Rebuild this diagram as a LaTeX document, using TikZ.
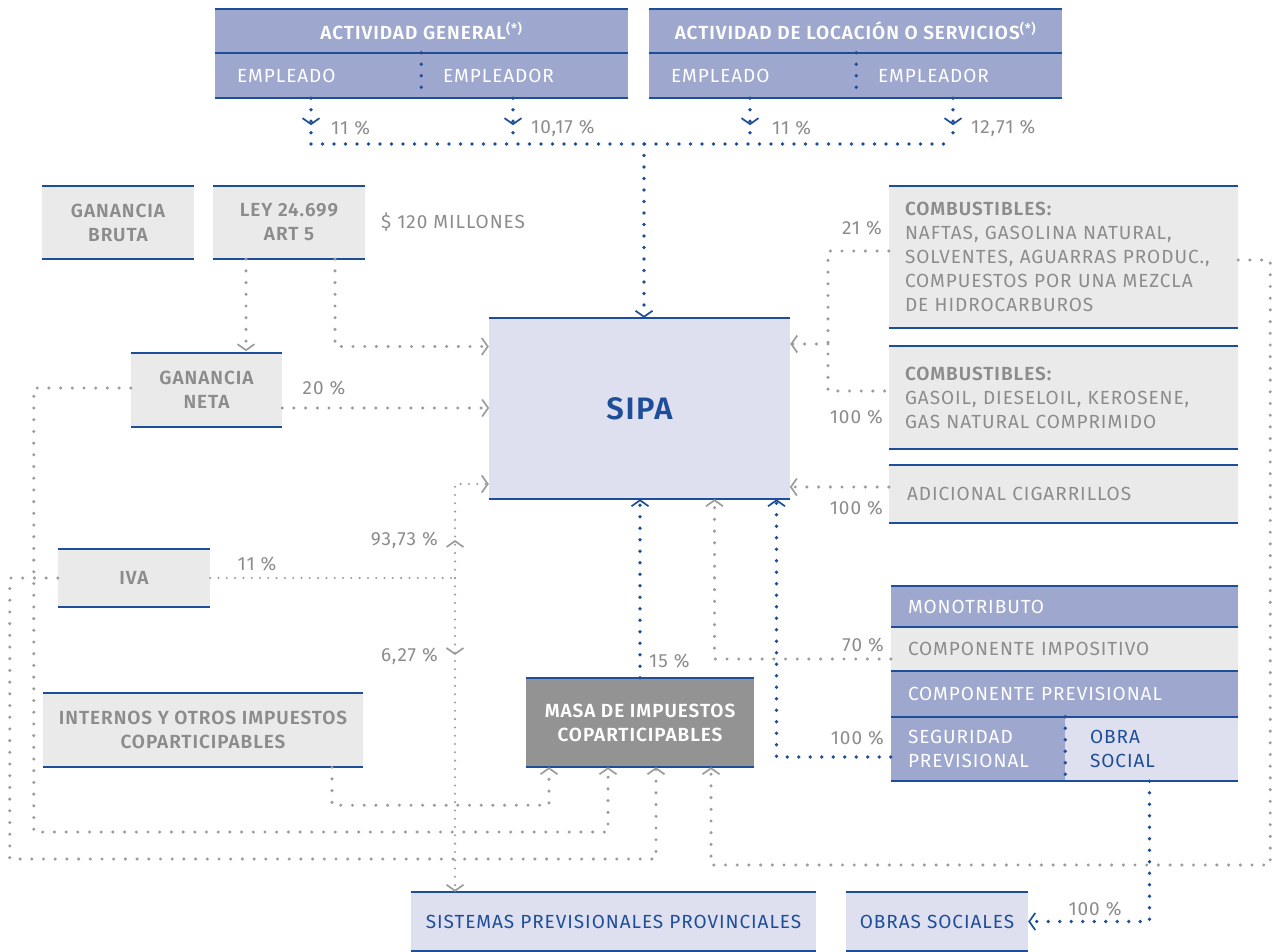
\documentclass[tikz,border=0pt]{standalone}
\usepackage{fontspec}
\setmainfont{Fira Sans}[LetterSpace=5,BoldFont={* SemiBold}]
\usetikzlibrary{arrows.meta,decorations.markings}
\definecolor{lav}{HTML}{9EA7CD}
\definecolor{lavlt}{HTML}{DEE0F0}
\definecolor{grylt}{HTML}{EAEAEA}
\definecolor{grydk}{HTML}{939393}
\definecolor{navy}{HTML}{1F4E99}
\definecolor{txtgry}{HTML}{8C8C8C}
\definecolor{dotgry}{HTML}{9C9C9C}
\newcommand{\txtsize}{\fontsize{19}{24}\selectfont}
\newcommand{\sipasize}{\fontsize{31}{36}\selectfont}
\tikzset{
  chev/.tip={Straight Barb[length=6pt,width=17pt,line width=1.7pt]},
  midarrow/.style={postaction={decorate,decoration={markings,mark=at position #1 with {\arrow{chev}}}}},
  bdot/.style={draw=navy, line width=3.8pt, line cap=round, dash pattern=on 0pt off 11.5pt},
  gdot/.style={draw=dotgry, line width=3.4pt, line cap=round, dash pattern=on 0pt off 11.7pt},
  fdot/.style={draw=dotgry, line width=2.3pt, line cap=round, dash pattern=on 0pt off 8.3pt},
  rule/.style={draw=navy, line width=2.5pt},
  graybox/.style={rectangle, inner sep=0pt, align=center, fill=grylt, text=txtgry, font=\txtsize\bfseries},
  lgray/.style={rectangle, fill=grylt, text=txtgry, align=left, inner ysep=0pt},
  lavbox/.style={rectangle, fill=lav, text=white, inner sep=0pt},
  lcell/.style={inner ysep=0pt, align=left},
  bluebox/.style={rectangle, fill=lavlt, text=navy, inner sep=0pt},
  pct/.style={text=txtgry, inner sep=0pt}
}
\begin{document}
\begin{tikzpicture}[x=1pt,y=-1pt,every node/.style={font=\txtsize}]
\fill[white] (0,0) rectangle (1285,952);
\useasboundingbox (0,0) rectangle (1285,952);

% aportes y contribuciones
\node[lavbox, font=\txtsize\bfseries, minimum width=413, minimum height=44] (agenH) at (421.5,31) {ACTIVIDAD GENERAL\textsuperscript{(*)}};
\node[lavbox, lcell, inner xsep=22pt, text width=162, minimum height=45] (agenE) at (318,75.5) {EMPLEADO};
\node[lavbox, lcell, inner xsep=22pt, text width=163, minimum height=45] (agenR) at (524.5,75.5) {EMPLEADOR};
\node[lavbox, font=\txtsize\bfseries, minimum width=413, minimum height=44] (alocH) at (855.5,31) {ACTIVIDAD DE LOCACIÓN O SERVICIOS\textsuperscript{(*)}};
\node[lavbox, lcell, inner xsep=22pt, text width=163, minimum height=45] (alocE) at (752.5,75.5) {EMPLEADO};
\node[lavbox, lcell, inner xsep=22pt, text width=162, minimum height=45] (alocR) at (959,75.5) {EMPLEADOR};

% ganancias
\node[graybox, minimum width=152, minimum height=73] (gbruta) at (118,222.5) {GANANCIA\\BRUTA};
\node[graybox, minimum width=152, minimum height=73] (ley) at (289,222.5) {LEY 24.699\\ART 5};
\node[pct, anchor=west] (pmill) at (381,222) {\$ 120 MILLONES};
\node[graybox, minimum width=151, minimum height=74] (gneta) at (206.5,390) {GANANCIA\\NETA};

\node[bluebox, font=\sipasize\bfseries, minimum width=301, minimum height=181] (sipa) at (639.5,408.5) {SIPA};

% combustibles
\node[lgray, inner xsep=16pt, text width=317, minimum height=142] (comb1) at (1063.5,257) {\textbf{COMBUSTIBLES:}\\NAFTAS, GASOLINA NATURAL,\\SOLVENTES, AGUARRAS PRODUC.,\\COMPUESTOS POR UNA MEZCLA\\DE HIDROCARBUROS};
\node[lgray, inner xsep=16pt, text width=317, minimum height=103] (comb2) at (1063.5,397.5) {\textbf{COMBUSTIBLES:}\\GASOIL, DIESELOIL, KEROSENE,\\GAS NATURAL COMPRIMIDO};
\node[lgray, inner xsep=18pt, text width=313, minimum height=58] (cig) at (1063.5,494) {ADICIONAL CIGARRILLOS};

\node[graybox, minimum width=152, minimum height=58] (iva) at (134,578) {IVA};
\node[graybox, minimum width=320, minimum height=74] (internos) at (203,730) {INTERNOS Y OTROS IMPUESTOS\\COPARTICIPABLES};
\node[rectangle, fill=grydk, text=white, font=\txtsize\bfseries, align=center, inner sep=0pt, minimum width=228, minimum height=89] (masa) at (640,722.5) {MASA DE IMPUESTOS\\COPARTICIPABLES};

% monotributo
\node[lavbox, lcell, inner xsep=17pt, text width=313, minimum height=41] (mono) at (1064.5,606.5) {MONOTRIBUTO};
\node[lgray, inner xsep=17pt, text width=313, minimum height=44] (cimp) at (1064.5,649) {COMPONENTE IMPOSITIVO};
\node[lavbox, lcell, inner xsep=17pt, text width=313, minimum height=46] (cprev) at (1064.5,694) {COMPONENTE PREVISIONAL};
\node[lavbox, lcell, inner xsep=17pt, text width=140, minimum height=64] (segp) at (978,749) {SEGURIDAD\\PREVISIONAL};
\node[bluebox, lcell, inner xsep=25pt, text width=123, minimum height=64] (obra) at (1151.5,749) {OBRA\\SOCIAL};

% destinos
\node[bluebox, minimum width=405, minimum height=59] (sist) at (613.5,921.5) {SISTEMAS PREVISIONALES PROVINCIALES};
\node[bluebox, minimum width=182, minimum height=59] (obras) at (937,921.5) {OBRAS SOCIALES};

\foreach \n in {agenH,agenE,agenR,alocH,alocE,alocR,gbruta,ley,gneta,sipa,comb1,comb2,cig,iva,internos,masa,mono,cimp,cprev,segp,obra,sist,obras}
  \draw[rule] (\n.north west) -- (\n.north east) (\n.south west) -- (\n.south east);

\draw[bdot] (agenE.north east) -- (agenE.south east);
\draw[bdot] (alocE.north east) -- (alocE.south east);
\draw[bdot] (segp.north east) -- (segp.south east);

% flujos superiores
\coordinate (t1) at (311,144);
\coordinate (t2) at (513,144);
\coordinate (t3) at (750,144);
\coordinate (t4) at (953,144);
\coordinate (tm) at (644,144);
\foreach \p/\b in {t1/agenE,t2/agenR,t3/alocE,t4/alocR}
  \draw[bdot, midarrow=27pt] (\p |- \b.south) -- (\p);
\draw[bdot] (t1) -- (t4);
\draw[bdot, -chev] (tm) -- (tm |- sipa.north);
\node[pct, anchor=west] (p11a) at (331,128) {11 \%};
\node[pct, anchor=west] (p1017) at (531,128) {10,17 \%};
\node[pct, anchor=west] (p11b) at (772,128) {11 \%};
\node[pct, anchor=west] (p1271) at (971,128) {12,71 \%};

% ganancias
\draw[gdot, -chev] ([xshift=-43pt]ley.south) -- ++(0,92);
\draw[gdot, -chev] ([xshift=46pt]ley.south) |- ([yshift=62pt]sipa.west);
\draw[gdot, -chev] ([yshift=-18pt]gneta.east) -- ++(207,0);
\node[pct] (p20) at (324,388) {20 \%};

% hacia la masa coparticipable
\coordinate (m1) at ([xshift=-91pt]masa.south);
\coordinate (m2) at ([xshift=-32pt]masa.south);
\coordinate (m3) at ([xshift=16pt]masa.south);
\coordinate (m4) at ([xshift=71pt]masa.south);
\draw[gdot, -chev] ([xshift=129pt]internos.south) -- ++(0,38) -| (m1);
\draw[gdot, -chev] ([yshift=2pt]gneta.west) -| ++(-97,444) -| (m2);
\draw[gdot, -chev] (iva.west) -| ++(-48,281) -| (m3);
\draw[gdot, -chev] ([yshift=-3pt]comb1.east) -| ++(32,605) -| (m4);

% reparto del IVA
\coordinate (kiva) at (455,578);
\draw[fdot] (iva.east) -- (kiva);
\draw[fdot, midarrow=38pt, -chev] (kiva) |- ([yshift=-75.5pt]sipa.west);
\draw[fdot, midarrow=77pt, -chev] (kiva) -- (kiva |- sist.north);
\node[pct] (p11c) at (257,564) {11 \%};
\node[pct, anchor=east] (p9373) at (438,540) {93,73 \%};
\node[pct, anchor=east] (p627) at (438,656) {6,27 \%};

% combustibles y cigarrillos
\coordinate (kc) at (828,344);
\draw[gdot] ([yshift=6pt]comb1.west) -| (kc) |- ([yshift=6.5pt]comb2.west);
\draw[gdot, -chev] (kc) -- (kc -| sipa.east);
\draw[gdot, -chev] ([yshift=7pt]cig.west) -- ++(-99,0);
\node[pct, anchor=east] (p21) at (882,228) {21 \%};
\node[pct, anchor=east] (p100a) at (883,417) {100 \%};
\node[pct, anchor=east] (p100b) at (883,508) {100 \%};

% monotributo y masa
\draw[gdot, -chev] ([yshift=-10pt]cimp.west) -| ([xshift=75pt]sipa.south);
\draw[bdot, -chev] ([yshift=-8pt]segp.west) -| ([xshift=137pt]sipa.south);
\draw[bdot, -chev] (masa.north) -- (masa.north |- sipa.south);
\draw[bdot, -chev] ([xshift=-2pt]obra.south) |- (obras.east);
\node[pct, anchor=west] (p15) at (649,661) {15 \%};
\node[pct, anchor=east] (p70) at (884,645) {70 \%};
\node[pct, anchor=east] (p100c) at (884,738) {100 \%};
\node[pct] (p100d) at (1095,909) {100 \%};

\end{tikzpicture}
\end{document}
